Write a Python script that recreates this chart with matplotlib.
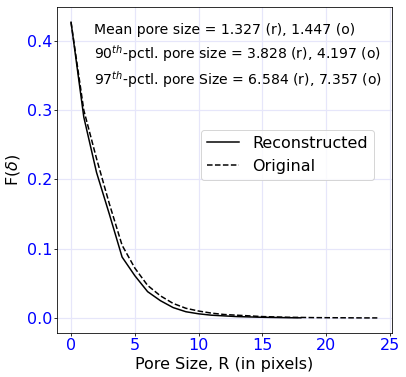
from matplotlib import pyplot as plt

# pore size distribution values
r_recon = list(range(0, 19))
f_recon = [0.427, 0.29, 0.21, 0.15, 0.088, 0.061, 0.038, 0.025, 0.015, 0.009,
           0.006, 0.004, 0.003, 0.002, 0.0015, 0.001, 0.0007, 0.0004, 0.0002]
r_orig = list(range(0, 25))
f_orig = [0.427, 0.30, 0.23, 0.165, 0.105, 0.072, 0.047, 0.032, 0.021, 0.014,
          0.010, 0.007, 0.005, 0.004, 0.003, 0.002, 0.0015, 0.001, 0.0008,
          0.0005, 0.0004, 0.0003, 0.0002, 0.0001, 0.0001]

stats_text = ("Mean pore size = 1.327 (r), 1.447 (o)\n"
              "90$^{th}$-pctl. pore size = 3.828 (r), 4.197 (o)\n"
              "97$^{th}$-pctl. pore Size = 6.584 (r), 7.357 (o)")

fig = plt.figure(figsize=(406 / 72, 377 / 72), dpi=72)
ax = fig.add_axes([57 / 406, 1 - 333 / 377, 335 / 406, 326 / 377])

ax.plot(r_recon, f_recon, color='black', linewidth=1.5, label='Reconstructed')
ax.plot(r_orig, f_orig, color='black', linewidth=1.5, linestyle='--', label='Original')

ax.set_xlim(-1.1, 25.15)
ax.set_ylim(-0.0217, 0.449)
ax.set_xticks([0, 5, 10, 15, 20, 25])
ax.set_yticks([0.0, 0.1, 0.2, 0.3, 0.4])
ax.grid(True, color='#e6e6fa', linewidth=1.2)
ax.set_axisbelow(True)
ax.tick_params(labelsize=16, labelcolor='blue', length=3, pad=2)

ax.set_xlabel('Pore Size, R (in pixels)', fontsize=16)
ax.set_ylabel(r'F($\delta$)', fontsize=16)

ax.text(0.11, 0.95, stats_text, transform=ax.transAxes, fontsize=14,
        va='top', ha='left', linespacing=1.35)
ax.legend(loc='center right', bbox_to_anchor=(0.946, 0.546), borderaxespad=0,
          fontsize=16)

fig.savefig('out.png', dpi=72)
